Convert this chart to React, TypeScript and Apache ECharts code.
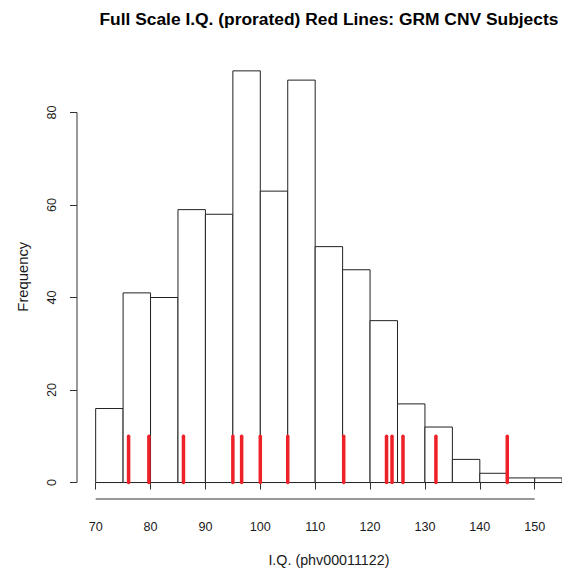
import React, { useEffect, useRef } from "react";
import * as echarts from "echarts";

const binStarts = [70, 75, 80, 85, 90, 95, 100, 105, 110, 115, 120, 125, 130, 135, 140, 145, 150];
const binWidth = 5;
const counts = [16, 41, 40, 59, 58, 89, 63, 87, 51, 46, 35, 17, 12, 5, 2, 1, 1];
const redLineValues = [76, 79.7, 86, 95, 96.6, 100, 105, 115.2, 123, 124, 126, 132, 145];
const redLineHeight = 10;
const xTicks = [70, 80, 90, 100, 110, 120, 130, 140, 150];
const yTicks = [0, 20, 40, 60, 80];

const titleText = "Full Scale I.Q. (prorated) Red Lines: GRM CNV Subjects";
const xName = "I.Q. (phv00011122)";
const yName = "Frequency";

export default function App() {
  const ref = useRef<HTMLDivElement>(null);
  useEffect(() => {
    if (!ref.current) return;
    const chart = echarts.init(ref.current, null, { renderer: "svg" });
    const lo = binStarts[0];
    const hi = binStarts[binStarts.length - 1] + binWidth;
    const xMin = lo - 0.04 * (hi - lo);
    const xMaxFull = hi + 0.04 * (hi - lo);
    const gridLeft = 77;
    const fullWidth = 503.8;
    const visWidth = 562 - gridLeft;
    const xMax = xMin + (xMaxFull - xMin) * (visWidth / fullWidth);
    const cMax = Math.max(...counts);
    const yMin = -0.04 * cMax;
    const yMax = cMax + 0.04 * cMax;
    const font = "Liberation Sans, Arial, Helvetica, sans-serif";
    const textColor = "#1a1a1a";

    const barData = binStarts.map((s, i) => [s, s + binWidth, counts[i]]);
    const redData = redLineValues.map((v) => [v, redLineHeight]);

    chart.setOption({
      animation: false,
      backgroundColor: "#ffffff",
      graphic: [
        {
          type: "text",
          x: gridLeft + fullWidth / 2,
          y: 19,
          style: {
            text: titleText,
            align: "center",
            verticalAlign: "middle",
            fontFamily: font,
            fontSize: 17.4,
            fontWeight: "bold",
            fill: "#000",
          },
        },
      ],
      grid: { left: gridLeft, top: 54.4, width: visWidth, height: 446.4, containLabel: false },
      xAxis: {
        type: "value",
        min: xMin,
        max: xMax,
        axisLine: { show: false },
        splitLine: { show: false },
        axisTick: { show: true, customValues: xTicks, length: 7, lineStyle: { color: "#333", width: 1 } },
        axisLabel: {
          customValues: xTicks,
          margin: 21,
          fontFamily: font,
          fontSize: 12.6,
          color: textColor,
        },
        name: xName,
        nameLocation: "middle",
        nameGap: 54,
        nameTextStyle: {
          fontFamily: font,
          fontSize: 14.3,
          color: textColor,
          padding: [0, 0, 0, (fullWidth - visWidth)],
        },
      },
      yAxis: {
        type: "value",
        min: yMin,
        max: yMax,
        axisLine: { show: false },
        splitLine: { show: false },
        axisTick: { show: true, customValues: yTicks, length: 7, lineStyle: { color: "#333", width: 1 } },
        axisLabel: {
          customValues: yTicks,
          rotate: 90,
          margin: 19,
          fontFamily: font,
          fontSize: 12.6,
          color: textColor,
        },
        name: yName,
        nameLocation: "middle",
        nameGap: 47,
        nameTextStyle: { fontFamily: font, fontSize: 14.8, color: textColor },
      },
      series: [
        {
          type: "custom",
          name: "bars",
          data: barData,
          renderItem: (params: any, api: any) => {
            const p0 = api.coord([api.value(0), api.value(2)]);
            const p1 = api.coord([api.value(1), 0]);
            return {
              type: "rect",
              shape: { x: p0[0], y: p0[1], width: p1[0] - p0[0], height: p1[1] - p0[1] },
              style: { fill: "#ffffff", stroke: "#222", lineWidth: 1 },
            };
          },
        },
        {
          type: "custom",
          name: "axes",
          data: [[0]],
          renderItem: (params: any, api: any) => {
            const a = api.coord([xTicks[0], yMin]);
            const b = api.coord([xTicks[xTicks.length - 1], yMin]);
            const c = api.coord([xMin, yTicks[0]]);
            const d = api.coord([xMin, yTicks[yTicks.length - 1]]);
            return {
              type: "group",
              children: [
                { type: "line", shape: { x1: a[0], y1: a[1], x2: b[0], y2: b[1] }, style: { stroke: "#333", lineWidth: 1 } },
                { type: "line", shape: { x1: c[0], y1: c[1], x2: d[0], y2: d[1] }, style: { stroke: "#333", lineWidth: 1 } },
              ],
            };
          },
        },
        {
          type: "custom",
          name: "red",
          data: redData,
          z: 5,
          renderItem: (params: any, api: any) => {
            const p0 = api.coord([api.value(0), 0]);
            const p1 = api.coord([api.value(0), api.value(1)]);
            return {
              type: "line",
              shape: { x1: p0[0], y1: p0[1], x2: p1[0], y2: p1[1] },
              style: { stroke: "#ee2028", lineWidth: 3.5, lineCap: "round" },
            };
          },
        },
      ],
    });
    return () => chart.dispose();
  }, []);
  return (
    <div
      ref={ref}
      style={{ position: "fixed", left: 0, top: 0, width: 562, height: 572, background: "#fff" }}
    />
  );
}
